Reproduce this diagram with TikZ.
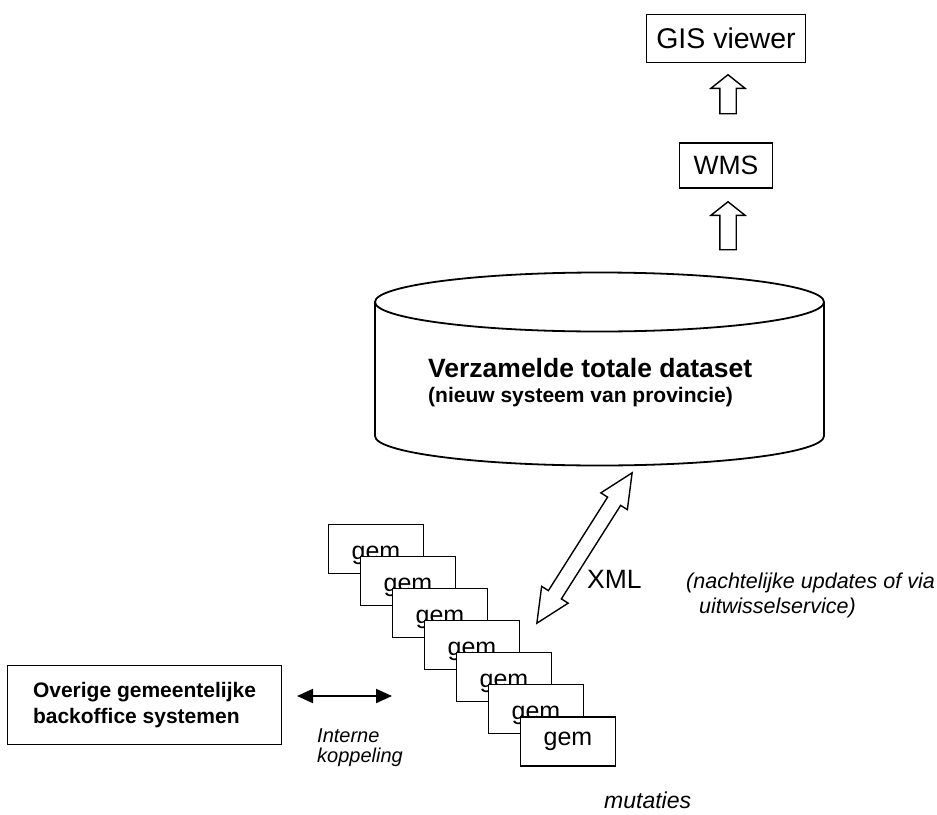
\documentclass[tikz,border=0pt]{standalone}
\usepackage{fontspec}
\setmainfont{Liberation Sans}
\usetikzlibrary{shapes.arrows,arrows.meta,positioning}

\begin{document}
\begin{tikzpicture}[x=1pt, y=-1pt,
  box/.style={draw, line width=1.4pt, inner sep=0pt, font=\fontsize{26.5}{30}\selectfont},
  gembox/.style={box, fill=white, minimum width=95pt, minimum height=49pt, font=\fontsize{25}{30}\selectfont},
  hollow/.style={draw, line width=1.4pt, inner xsep=0pt, fill=white},
  uparrow/.style={hollow, single arrow, rotate=90, inner ysep=7.5pt, single arrow head extend=9pt, single arrow tip angle=103},
  note/.style={inner sep=0pt, align=left, font=\fontsize{21.5}{25}\selectfont\itshape}]
  \useasboundingbox (0,0) rectangle (937,814);
  % viewer chain
  \node (gis) [box, minimum width=159pt, minimum height=48pt, font=\fontsize{28.5}{32}\selectfont] at (726,38.5) {GIS viewer};
  \node (wms) [box, minimum width=93pt, minimum height=45pt, below=79pt of gis] {WMS};
  \node (uptop) [uparrow, minimum height=39pt] at (728,97.5) {};
  \node (uplow) [uparrow, minimum height=48pt] at (728,229) {};
  % central dataset
  \draw[line width=1.8pt] (599.5,302) ellipse [x radius=224.5pt, y radius=29.5pt];
  \draw[line width=1.8pt] (375,302) -- (375,436)
    arc[start angle=180, end angle=360, x radius=224.5pt, y radius=29.5pt] -- (824,302);
  \node (dataset) [anchor=base west, inner sep=0pt, font=\bfseries\fontsize{26.5}{30}\selectfont] at (428,377) {Verzamelde totale dataset};
  \node (provincie) [anchor=base west, inner sep=0pt, font=\bfseries\fontsize{21}{25}\selectfont] at (428,402) {(nieuw systeem van provincie)};
  % municipal stack
  \foreach \i in {1,...,6}
    \node (gem\i) [gembox, text height=26pt] at (344+32*\i, 517+32*\i) {gem};
  \node (gem7) [gembox] at (568,741.5) {gem};
  \node (xmlarrow) [hollow, double arrow, rotate=57.65, minimum height=178pt, inner ysep=7pt,
    double arrow head extend=8pt, double arrow tip angle=50] at (584.5,548) {};
  \node (xml) [anchor=base west, inner sep=0pt, font=\fontsize{26.5}{30}\selectfont] at (587,588) {XML};
  \node (nacht) [note, anchor=base west] at (686,613) {(nachtelijke updates of via\\\hspace{13pt}uitwisselservice)};
  % back office
  \node (over) [box, minimum width=274pt, minimum height=79pt, align=left,
    font=\bfseries\fontsize{21}{26}\selectfont] at (144.5,705) {Overige gemeentelijke\\backoffice systemen};
  \coordinate (kopL) at (297,696);
  \coordinate (kopR) at (392,696);
  \draw[line width=2pt, {Triangle[length=16pt,width=14pt]}-{Triangle[length=16pt,width=14pt]}] (kopL) -- (kopR);
  \node (koppel) [note, anchor=base west, font=\fontsize{20}{19.5}\selectfont\itshape] at (317,762) {Interne\\koppeling};
  \node (mutaties) [note, anchor=base west, font=\fontsize{23}{25}\selectfont\itshape] at (604,808) {mutaties};
\end{tikzpicture}
\end{document}
